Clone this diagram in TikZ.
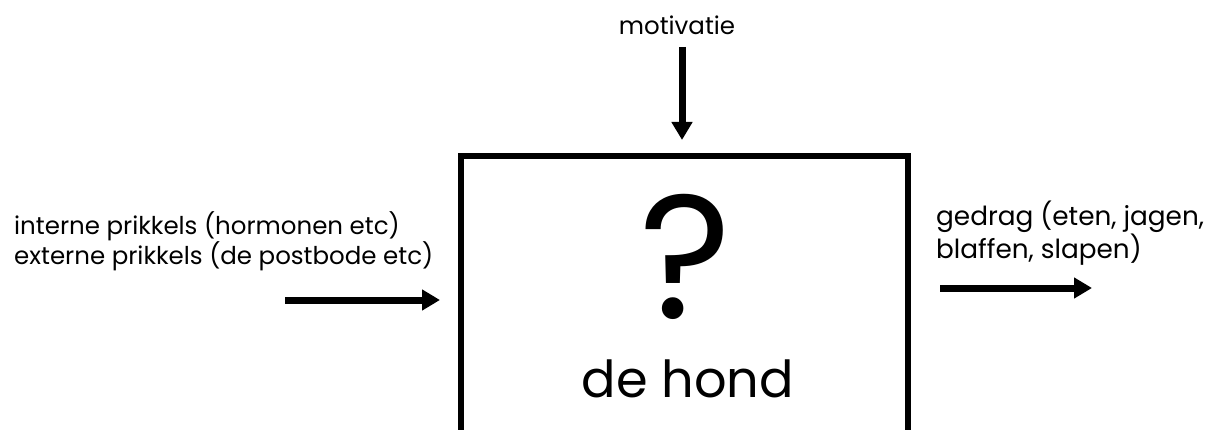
\documentclass[tikz,border=0pt]{standalone}
\usepackage{fontspec}
\setmainfont{Poppins}
\usetikzlibrary{arrows.meta}

\begin{document}
\begin{tikzpicture}[x=1pt, y=-1pt,
    arr/.style={-{Triangle[length=18pt, width=20pt]}, line width=7pt},
    lbl/.style={font=\fontsize{24.5}{27}\selectfont, align=left, inner sep=0pt}]
    \useasboundingbox (0,0) rectangle (1212,430);
    \clip (0,0) rectangle (1212,430);

    % Nodes
    \node[draw, line width=6pt, minimum width=447pt, minimum height=290pt, inner sep=0pt] (dog) at (684.5,301) {};
    \node[font=\fontsize{176}{176}\selectfont, inner sep=0pt, text depth=0pt, anchor=base] (quest) at (686,318) {?};
    \node[font=\fontsize{51}{51}\selectfont, anchor=base, inner sep=0pt] (name) at (688,397) {de hond};

    % Labels
    \node[lbl] (motiv) at (677,25) {motivatie};
    \node[lbl, anchor=west] (input) at (14,241) {interne prikkels (hormonen etc)\\externe prikkels (de postbode etc)};
    \node[lbl, anchor=west, font=\fontsize{26.3}{26.5}\selectfont] (output) at (936,233) {gedrag (eten, jagen,\\blaffen, slapen)};

    % Arrow ends
    \coordinate (top) at (682,47);
    \coordinate (inL) at (285,300);
    \coordinate (outR) at (1092,288);

    % Edges
    \draw[arr] (top) -- (top |- dog.north) [shorten >=13pt];
    \draw[arr, shorten >=18pt] (inL) -- (inL -| dog.west);
    \draw[arr, shorten <=29pt] (outR -| dog.east) -- (outR);

\end{tikzpicture}
\end{document}
